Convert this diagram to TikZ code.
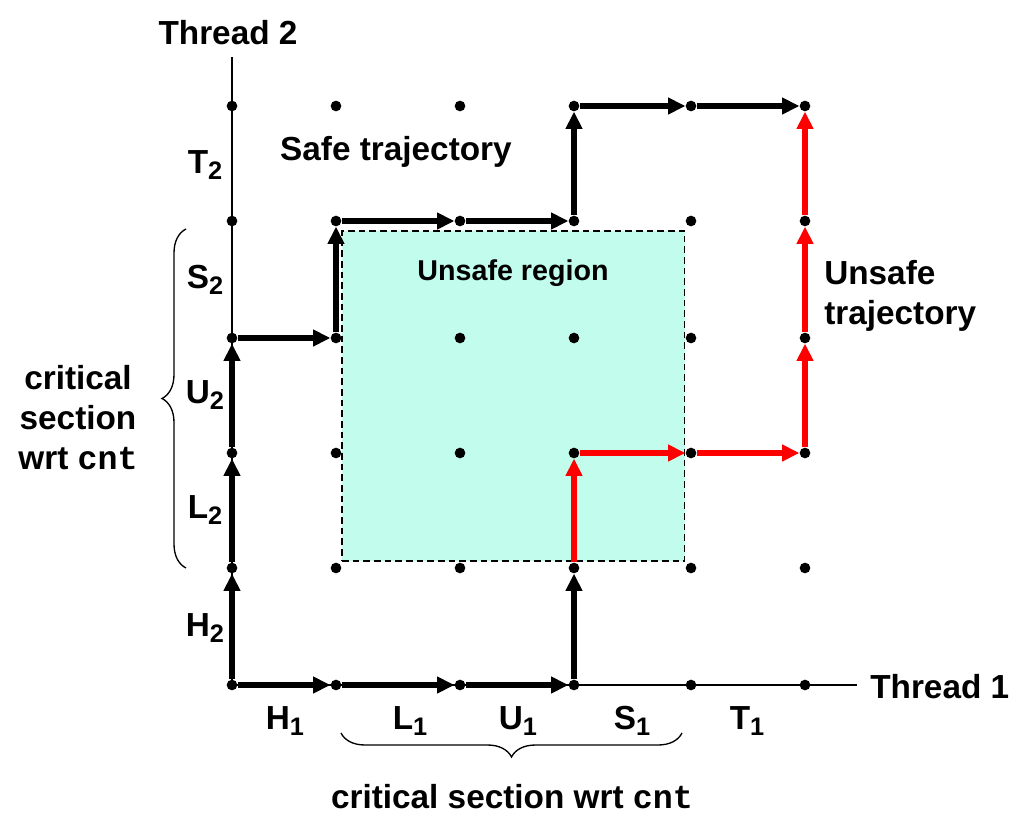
\documentclass[tikz,border=0pt]{standalone}
\usepackage{fontspec}
\setmainfont{Liberation Sans}
\setmonofont{Liberation Mono}
\usetikzlibrary{arrows.meta,decorations.pathreplacing}
\newcommand\sublab[2]{#1\raisebox{-0.35ex}{\fontsize{19}{19}\selectfont #2}}
\tikzset{
  dot/.style={circle,fill=black,inner sep=0pt,minimum size=8pt},
  axisline/.style={line width=1.5pt},
  safepath/.style={line width=3.8pt,-{Triangle[length=13pt,width=12pt]}},
  unsafepath/.style={line width=3.8pt,red,-{Triangle[length=13pt,width=12pt]}},
  lbl/.style={font=\fontsize{25}{30}\selectfont\bfseries,inner sep=0pt},
  bracestyle/.style={line width=1pt,decorate,decoration={brace,amplitude=18pt}}
}
\begin{document}
\begin{tikzpicture}[x=0.75pt,y=-0.75pt]
\useasboundingbox (0,0) rectangle (1028,838);
% unsafe region
\node[draw,line width=1.3pt,dash pattern=on 5pt off 3pt,fill={rgb,255:red,194;green,252;blue,236},minimum width=257pt,minimum height=247.5pt,inner sep=0pt,anchor=north west] (region) at (341,230) {};
\node[lbl,font=\fontsize{21.5}{26}\selectfont\bfseries] (regionlbl) at (513,273) {Unsafe region};
% axes
\coordinate (ytop) at (232,57);
\coordinate (xend) at (857,685);
% grid dots
\foreach \i/\x in {0/232,1/336,2/460,3/574,4/691,5/805}{
  \foreach \j/\y in {0/685,1/568,2/453,3/338,4/221,5/106}{
    \node[dot] (p\i\j) at (\x,\y) {};
  }
}
\draw[axisline] (p00.center) -- (ytop);
\draw[axisline] (p00.center) -- (xend);
% labels
\node[lbl] (thread2) at (228,33) {Thread 2};
\node[lbl,anchor=west] (thread1) at (870,687) {Thread 1};
\node[lbl] (t2) at (205,165) {\sublab{T}{2}};
\node[lbl] (s2) at (205,280) {\sublab{S}{2}};
\node[lbl] (u2) at (205,395) {\sublab{U}{2}};
\node[lbl] (l2) at (205,510) {\sublab{L}{2}};
\node[lbl] (h2) at (205,628) {\sublab{H}{2}};
\node[lbl] (h1) at (285,721) {\sublab{H}{1}};
\node[lbl] (l1) at (410,721) {\sublab{L}{1}};
\node[lbl] (u1) at (518,721) {\sublab{U}{1}};
\node[lbl] (s1) at (632,721) {\sublab{S}{1}};
\node[lbl] (t1) at (747,721) {\sublab{T}{1}};
\node[lbl] (safelbl) at (396,152) {Safe trajectory};
\node[lbl,align=left,anchor=west] (unsafelbl) at (824,296) {Unsafe\\trajectory};
\node[lbl,align=center] (critleft) at (78,418) {critical\\section\\wrt \texttt{cnt}};
\node[lbl] (critbottom) at (512,797) {critical section wrt \texttt{cnt}};
% braces
\coordinate (bl1) at (186,568);
\coordinate (bl2) at (186,229);
\coordinate (bb1) at (682,733);
\coordinate (bb2) at (341,733);
\draw[bracestyle] (bl1) -- (bl2);
\draw[bracestyle] (bb1) -- (bb2);
% safe trajectory
\draw[safepath] (p00) -- (p01);
\draw[safepath] (p01) -- (p02);
\draw[safepath] (p02) -- (p03);
\draw[safepath] (p03) -- (p13);
\draw[safepath] (p13) -- (p14);
\draw[safepath] (p14) -- (p24);
\draw[safepath] (p24) -- (p34);
\draw[safepath] (p34) -- (p35);
\draw[safepath] (p35) -- (p45);
\draw[safepath] (p45) -- (p55);
% unsafe trajectory
\draw[safepath] (p00) -- (p10);
\draw[safepath] (p10) -- (p20);
\draw[safepath] (p20) -- (p30);
\draw[safepath] (p30) -- (p31);
\draw[unsafepath] (p31) -- (p32);
\draw[unsafepath] (p32) -- (p42);
\draw[unsafepath] (p42) -- (p52);
\draw[unsafepath] (p52) -- (p53);
\draw[unsafepath] (p53) -- (p54);
\draw[unsafepath] (p54) -- (p55);
\end{tikzpicture}
\end{document}
